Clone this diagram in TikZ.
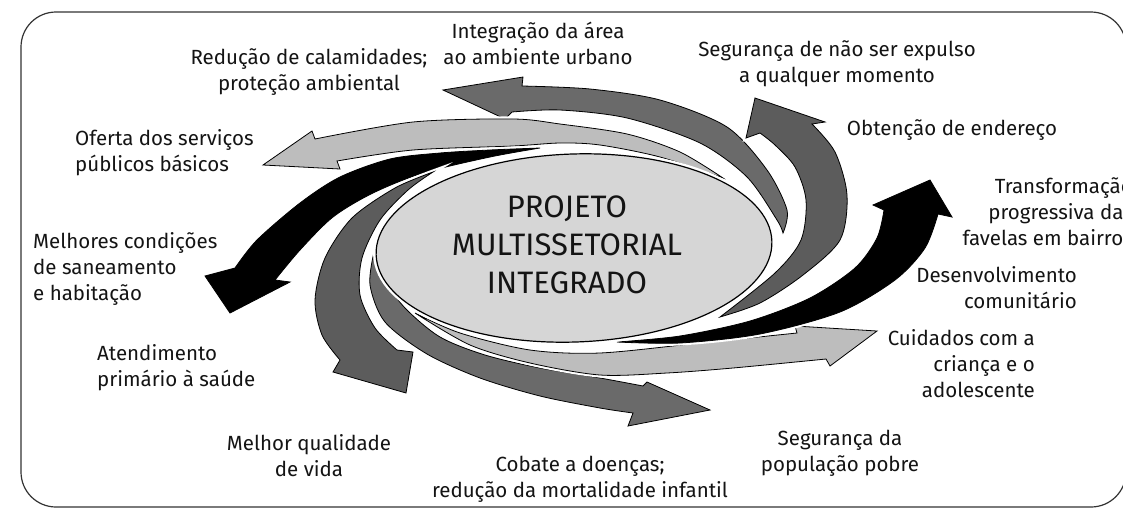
\documentclass[tikz,border=0pt]{standalone}
\usepackage{fontspec}
\setmainfont{Fira Sans}
\definecolor{dg}{HTML}{6A6A6A}
\definecolor{dgb}{HTML}{5C5C5C}
\definecolor{lg}{HTML}{BDBDBD}
\definecolor{ellfill}{HTML}{D6D6D6}
\definecolor{txt}{HTML}{141414}
\begin{document}
\begin{tikzpicture}[x=1pt,y=-1pt,
  arr/.style={draw=black,line width=0.8pt,line join=miter,preaction={draw=white,line width=5pt}},
  darkarrow/.style={arr,fill=dg},
  darkerarrow/.style={arr,fill=dgb},
  lightarrow/.style={arr,fill=lg},
  blackarrow/.style={arr,fill=black},
  lbl/.style={font=\fontsize{20.5}{26}\selectfont,inner sep=0pt,text=txt},
  title/.style={font=\fontsize{31}{38}\selectfont,inner sep=0pt,text=txt,align=center}]
\useasboundingbox (0,0) rectangle (1123,512);
\clip (0,0) rectangle (1123,512);
\fill[white] (0,0) rectangle (1123,512);
% frame
\draw[line width=1.2pt,color=black!80,rounded corners=35pt] (21,12) rectangle (1126,507);

% A1 Integracao (dark gray, over the top, pointing left)
\path[darkarrow] plot[smooth] coordinates {(783,233) (787,210) (767,170) (727,127) (660,100) (590,89) (522,86)}
  -- (523,77) -- (443,90) -- (505,119)
  -- plot[smooth] coordinates {(512,112) (560,110) (627,118) (700,143) (747,177) (777,220) (783,233)} -- cycle;
% A2 Oferta (light gray, pointing left)
\path[lightarrow] plot[smooth] coordinates {(723,178) (680,152) (627,134) (560,124) (513,119) (413,122) (315,139)}
  -- (312,131) -- (263,165) -- (340,169)
  -- plot[smooth] coordinates {(337,161) (413,150) (513,146) (560,143) (600,145) (660,157) (723,178)} -- cycle;
% A3 Melhores (black, down-left)
\path[blackarrow] plot[smooth] coordinates {(540,148) (490,150) (440,153) (390,159) (340,177) (300,203) (257,240) (235,268)}
  -- (205,276) -- (230,313) -- (290,282)
  -- plot[smooth] coordinates {(275,280) (300,250) (333,217) (373,193) (423,173) (490,157) (540,148)} -- cycle;
% A4 Atendimento (dark gray, down)
\path[darkerarrow] plot[smooth] coordinates {(433,172) (395,188) (352,218) (325,258) (315,300) (322,335) (340,360)}
  -- (333,372) -- (406,393) -- (413,352)
  -- plot[smooth] coordinates {(397,350) (375,328) (360,295) (362,258) (380,220) (408,190) (433,172)} -- cycle;
% A5 Cobate (dark gray, under, pointing right)
\path[darkarrow] plot[smooth] coordinates {(374,252) (370,285) (385,322) (427,354) (480,378) (540,396) (600,408) (633,413)}
  -- (628,426) -- (710,410) -- (647,382)
  -- plot[smooth] coordinates {(643,386) (600,378) (540,368) (485,355) (440,337) (405,308) (385,280) (374,252)} -- cycle;
% A6 Cuidados (light gray, pointing right)
\path[lightarrow] plot[smooth] coordinates {(415,313) (460,333) (530,350) (600,353) (700,343) (797,333)}
  -- (795,326) -- (877,331) -- (830,366)
  -- plot[smooth] coordinates {(826,359) (733,368) (667,373) (600,375) (530,363) (470,345) (415,313)} -- cycle;
% A7 Seguranca expulso (dark gray, up)
\path[darkerarrow] plot[smooth] coordinates {(720,317) (760,303) (803,275) (840,240) (847,195) (835,152) (812,124)}
  -- (825,122) -- (755,98) -- (746,138)
  -- plot[smooth] coordinates {(760,133) (775,145) (795,167) (806,200) (801,240) (775,273) (720,317)} -- cycle;
% A8 Transformacao (black, up-right)
\path[blackarrow] plot[smooth] coordinates {(617,342) (680,336) (750,321) (810,298) (855,268) (877,238) (884,210)}
  -- (873,205) -- (930,180) -- (952,217)
  -- plot[smooth] coordinates {(938,214) (925,248) (895,280) (840,312) (760,334) (680,343) (617,342)} -- cycle;

% central ellipse
\draw[white,line width=6pt,rotate around={2:(574,248)}] (574,248) ellipse [x radius=198,y radius=94];
\draw[black,fill=ellfill,line width=1.2pt,rotate around={2:(574,248)}] (574,248) ellipse [x radius=198,y radius=94];
\node[title] (proj) at (567,245) {PROJETO\\MULTISSETORIAL\\INTEGRADO};

% labels
\node[lbl,align=center] (integ) at (538,43.5) {Integração da área\\ao ambiente urbano};
\node[lbl,align=center] (reduc) at (309,72) {Redução de calamidades;\\proteção ambiental};
\node[lbl,align=center] (segur) at (837,63.5) {Segurança de não ser expulso\\a qualquer momento};
\node[lbl] (obten) at (952,130) {Obtenção de endereço};
\node[lbl,align=right,anchor=east] (transf) at (1133,212) {Transformação\\progressiva das\\favelas em bairros};
\node[lbl,align=right,anchor=east] (desenv) at (1077,287.5) {Desenvolvimento\\comunitário};
\node[lbl,align=right,anchor=east] (cuid) at (1035,363.5) {Cuidados com a\\criança e o\\adolescente};
\node[lbl,align=center] (segpop) at (840,453) {Segurança da\\população pobre};
\node[lbl,align=center] (cobate) at (580,479.5) {Cobate a doenças;\\redução da mortalidade infantil};
\node[lbl,align=center] (melhor) at (309,455.5) {Melhor qualidade\\de vida};
\node[lbl,align=left,anchor=west] (atend) at (97,367.5) {Atendimento\\primário à saúde};
\node[lbl,align=left,anchor=west] (melhores) at (33,268.5) {Melhores condições\\de saneamento\\e habitação};
\node[lbl,align=left,anchor=west] (oferta) at (75,153) {Oferta dos serviços\\públicos básicos};
\end{tikzpicture}
\end{document}
